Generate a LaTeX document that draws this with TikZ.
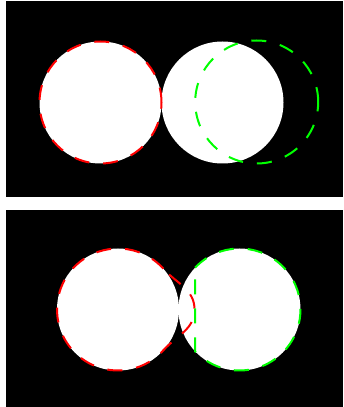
\documentclass[tikz,border=0pt]{standalone}
\begin{document}
\begin{tikzpicture}[x=1pt,y=1pt]

\colorlet{cRed}{red}
\colorlet{cGreen}{green}

\tikzset{
  panel/.style  = {fill=black},
  ball/.style   = {fill=white},
  outline/.style = {line width=2pt, dash pattern=on 15pt off 14pt},
}

\useasboundingbox (0,0) rectangle (343,407);

%% ---------- top panel ----------
\fill[panel] (6,210) rectangle (343,406);

\coordinate (tl) at (100.5,304.5);
\coordinate (tr) at (222.5,304.5);
\coordinate (tg) at (256.7,305);

\fill[ball] (tl) circle (61);
\fill[ball] (tr) circle (61);

\draw[outline, cRed]   (tl) circle (61);
\draw[outline, cGreen] (tg) circle (61.5);

%% ---------- bottom panel ----------
\fill[panel] (6,0) rectangle (343,197);

\coordinate (bl) at (118,97.5);
\coordinate (br) at (239.5,97.5);

\fill[ball] (bl) circle (61);
\fill[ball] (br) circle (61);

\draw[outline, cRed] ([shift={(42:61)}]bl) arc[start angle=42, end angle=318, radius=61]
  to[out=48, in=-90] (194.5,97.5) to[out=90, in=-48] cycle;
\draw[outline, cGreen] ([shift={(136.8:61)}]br) arc[start angle=136.8, end angle=-136.8, radius=61]
  -- cycle;

\end{tikzpicture}
\end{document}
